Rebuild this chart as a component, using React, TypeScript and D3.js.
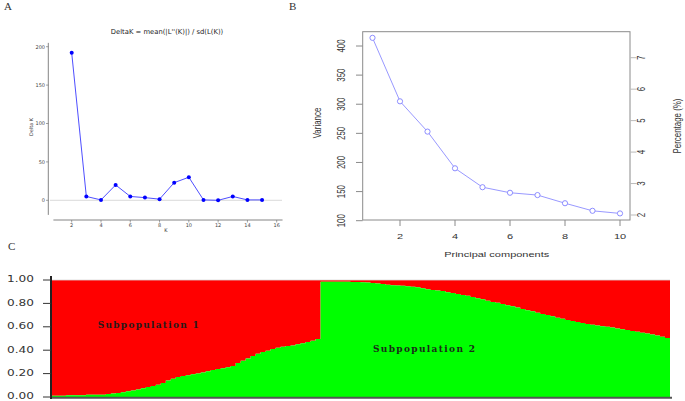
import React from "react";
import * as d3 from "d3";

// Panel A: Evanno DeltaK
const kValues = [2, 3, 4, 5, 6, 7, 8, 9, 10, 11, 12, 13, 14, 15];
const deltaK = [192, 5, 0.5, 20, 5, 3.5, 1.5, 23, 30, 0.5, 0, 5, 0.5, 0.5];
const aYTicks = [0, 50, 100, 150, 200];
const aXTicks = [2, 4, 6, 8, 10, 12, 14, 16];

// Panel B: PCA variance
const pcs = [1, 2, 3, 4, 5, 6, 7, 8, 9, 10];
const pcVariance = [414, 305, 253, 190, 157.5, 148, 144, 130, 117, 112.5];
const bYTicks = [100, 150, 200, 250, 300, 350, 400];
const bPctTicks = [2, 3, 4, 5, 6, 7];
const bXTicks = [2, 4, 6, 8, 10];

// Panel C: membership of subpopulation 2 (green) per individual, sorted
const groupOneQ2 = [
  0.01, 0.01, 0.01, 0.015, 0.015, 0.015, 0.015, 0.02, 0.02, 0.02, 0.02, 0.025,
  0.03, 0.035, 0.04, 0.05, 0.055, 0.065, 0.075, 0.085, 0.095, 0.105, 0.12, 0.14,
  0.155, 0.17, 0.18, 0.185, 0.195, 0.2, 0.21, 0.22, 0.23, 0.24, 0.245, 0.255,
  0.265, 0.29, 0.31, 0.33, 0.35, 0.37, 0.385, 0.395, 0.41, 0.42, 0.43, 0.435,
  0.44, 0.45, 0.46, 0.47, 0.48, 0.495,
];
const groupTwoQ2 = [
  0.985, 0.985, 0.985, 0.985, 0.985, 0.985, 0.983, 0.982, 0.98, 0.978, 0.975,
  0.97, 0.965, 0.96, 0.955, 0.952, 0.95, 0.946, 0.942, 0.937, 0.93, 0.922,
  0.915, 0.91, 0.905, 0.895, 0.888, 0.88, 0.872, 0.865, 0.855, 0.845, 0.835,
  0.822, 0.812, 0.805, 0.795, 0.785, 0.775, 0.765, 0.752, 0.742, 0.732, 0.72,
  0.71, 0.7, 0.69, 0.678, 0.668, 0.658, 0.65, 0.64, 0.632, 0.624, 0.618, 0.612,
  0.605, 0.6, 0.593, 0.585, 0.578, 0.572, 0.565, 0.558, 0.55, 0.543, 0.535,
  0.525, 0.515, 0.505,
];
const cYTicks = [0, 0.2, 0.4, 0.6, 0.8, 1.0];
const subLabels = ["Subpopulation 1", "Subpopulation 2"];

export default function App() {
  // ---------- Panel A scales
  const ax = d3.scaleLinear().domain([2, 16]).range([71.7, 276.7]);
  const ay = d3.scaleLinear().domain([0, 200]).range([200.3, 46.7]);
  const aLine = d3
    .line<number>()
    .x((_, i) => ax(kValues[i]))
    .y((d) => ay(d));

  // ---------- Panel B scales
  const bx = d3.scaleLinear().domain([1, 10]).range([372.5, 620]);
  const by = d3.scaleLinear().domain([100, 400]).range([220.7, 46]);
  const bPct = d3.scaleLinear().domain([2, 7]).range([215, 57.7]);
  const bLine = d3
    .line<number>()
    .x((_, i) => bx(pcs[i]))
    .y((d) => by(d));
  const bLeft = 362.7,
    bRight = 630,
    bTop = 31.7,
    bBottom = 220;
  const sy = 0.72;
  const bFont = "'Liberation Sans', Arial, sans-serif";

  // ---------- Panel C scales
  const q2 = [...groupOneQ2, ...groupTwoQ2];
  const cLeft = 51,
    cRight = 670;
  const cx = d3
    .scaleBand<number>()
    .domain(d3.range(q2.length))
    .range([cLeft, cRight])
    .padding(0);
  const cy = d3.scaleLinear().domain([0, 1]).range([397, 280]);
  // step points: one per individual plus a closing point at the right edge
  const stepPts = [...q2, q2[q2.length - 1]];
  const stepX = (i: number) => (i >= q2.length ? cRight : cx(i)!);
  const greenArea = d3
    .area<number>()
    .curve(d3.curveStepAfter)
    .x((_, i) => stepX(i))
    .y0(cy(0))
    .y1((d) => cy(d));
  const redArea = d3
    .area<number>()
    .curve(d3.curveStepAfter)
    .x((_, i) => stepX(i))
    .y0(cy(1))
    .y1((d) => cy(d));

  return (
    <svg
      width={685}
      height={401}
      style={{ position: "absolute", left: 0, top: 0, background: "#fff" }}
    >
      {/* Panel letters */}
      <g fontFamily="'Liberation Serif', 'Times New Roman', serif" fontSize={11} fill="#333">
        <text x={4} y={10}>A</text>
        <text x={289} y={10}>B</text>
        <text x={8} y={250}>C</text>
      </g>

      {/* ================= Panel A ================= */}
      <g fontFamily="'DejaVu Sans', sans-serif">
        <text x={167} y={33.5} textAnchor="middle" fontSize={6.8} fill="#222">
          DeltaK = mean(|L''(K)|) / sd(L(K))
        </text>
        {/* spines */}
        <line x1={48.3} x2={48.3} y1={ay(205)} y2={ay(-19)} stroke="#666" strokeWidth={0.8} />
        <line x1={ax(0.75)} x2={ax(16.4)} y1={220} y2={220} stroke="#666" strokeWidth={0.8} />
        {/* zero line */}
        <line x1={50} x2={282} y1={ay(0)} y2={ay(0)} stroke="#d0d0d0" strokeWidth={0.8} />
        {aYTicks.map((t) => (
          <g key={t}>
            <line x1={46} x2={48.3} y1={ay(t)} y2={ay(t)} stroke="#666" strokeWidth={0.6} />
            <text x={45} y={ay(t) + 1.8} textAnchor="end" fontSize={5} fill="#444">
              {t}
            </text>
          </g>
        ))}
        {aXTicks.map((t) => (
          <g key={t}>
            <line x1={ax(t)} x2={ax(t)} y1={220} y2={222.5} stroke="#666" strokeWidth={0.6} />
            <text x={ax(t)} y={227} textAnchor="middle" fontSize={5} fill="#444">
              {t}
            </text>
          </g>
        ))}
        <text
          transform={`translate(33,127) rotate(-90)`}
          textAnchor="middle"
          fontSize={5}
          fill="#333"
        >
          Delta K
        </text>
        <text x={166} y={232} textAnchor="middle" fontSize={5} fill="#333">
          K
        </text>
        <path d={aLine(deltaK) || ""} fill="none" stroke="#3a3aff" strokeWidth={0.9} />
        {deltaK.map((d, i) => (
          <circle key={i} cx={ax(kValues[i])} cy={ay(d)} r={2} fill="#0000ff" />
        ))}
      </g>

      {/* ================= Panel B ================= */}
      <g fontFamily={bFont}>
        <rect
          x={bLeft}
          y={bTop}
          width={bRight - bLeft}
          height={bBottom - bTop}
          fill="none"
          stroke="#8a8a8a"
          strokeWidth={1}
        />
        {bYTicks.map((t) => (
          <g key={t}>
            <line x1={356} x2={bLeft} y1={by(t)} y2={by(t)} stroke="#8a8a8a" />
            <text
              transform={`translate(345,${by(t)}) scale(1,${sy}) rotate(-90)`}
              textAnchor="middle"
              fontSize={11}
              fill="#333"
            >
              {t}
            </text>
          </g>
        ))}
        {bPctTicks.map((t) => (
          <g key={t}>
            <line x1={bRight} x2={636.5} y1={bPct(t)} y2={bPct(t)} stroke="#bbb" />
            <text
              transform={`translate(645,${bPct(t)}) scale(1,${sy}) rotate(-90)`}
              textAnchor="middle"
              fontSize={11}
              fill="#333"
            >
              {t}
            </text>
          </g>
        ))}
        {bXTicks.map((t) => (
          <g key={t}>
            <line x1={bx(t)} x2={bx(t)} y1={bBottom} y2={226} stroke="#8a8a8a" />
            <text
              transform={`translate(${bx(t)},238.5) scale(1,${sy})`}
              textAnchor="middle"
              fontSize={11}
              fill="#333"
            >
              {t}
            </text>
          </g>
        ))}
        <text
          transform={`translate(496.7,256.5) scale(1,${sy})`}
          textAnchor="middle"
          fontSize={11}
          fill="#333"
        >
          Principal components
        </text>
        <text
          transform={`translate(320.5,123) scale(1,${sy}) rotate(-90)`}
          textAnchor="middle"
          fontSize={11}
          fill="#333"
        >
          Variance
        </text>
        <text
          transform={`translate(680.5,126) scale(1,${sy}) rotate(-90)`}
          textAnchor="middle"
          fontSize={11}
          fill="#333"
        >
          Percentage (%)
        </text>
        <path d={bLine(pcVariance) || ""} fill="none" stroke="#8c8cff" strokeWidth={0.9} />
        {pcVariance.map((d, i) => (
          <circle
            key={i}
            cx={bx(pcs[i])}
            cy={by(d)}
            r={2.6}
            fill="#fff"
            stroke="#8080ff"
            strokeWidth={0.9}
          />
        ))}
      </g>

      {/* ================= Panel C ================= */}
      <g>
        <path d={redArea(stepPts) || ""} fill="#ff0000" />
        <path d={greenArea(stepPts) || ""} fill="#00ff00" />
        <line x1={cLeft} x2={cRight} y1={cy(1)} y2={cy(1)} stroke="#d8d8d8" strokeWidth={0.8} />
        <line x1={50} x2={672} y1={397.8} y2={397.8} stroke="#555" strokeWidth={2} />
        <line x1={51} x2={51} y1={276} y2={399} stroke="#222" strokeWidth={2} />
        {cYTicks.map((t) => (
          <g key={t}>
            <line x1={43} x2={51} y1={cy(t)} y2={cy(t)} stroke="#333" strokeWidth={1} />
            <text
              x={7}
              y={cy(t) + 2.4}
              fontFamily="'DejaVu Sans', sans-serif"
              fontSize={8.5}
              textLength={27}
              lengthAdjust="spacingAndGlyphs"
              fill="#333"
            >
              {t.toFixed(2)}
            </text>
          </g>
        ))}
        <text
          x={97.7}
          y={328}
          fontFamily="'DejaVu Serif', serif"
          fontWeight="bold"
          fontSize={9}
          textLength={101}
          lengthAdjust="spacing"
          fill="#2a1a1a"
        >
          {subLabels[0]}
        </text>
        <text
          x={373}
          y={352}
          fontFamily="'DejaVu Serif', serif"
          fontWeight="bold"
          fontSize={9}
          textLength={102}
          lengthAdjust="spacing"
          fill="#1a2a1a"
        >
          {subLabels[1]}
        </text>
      </g>
    </svg>
  );
}
